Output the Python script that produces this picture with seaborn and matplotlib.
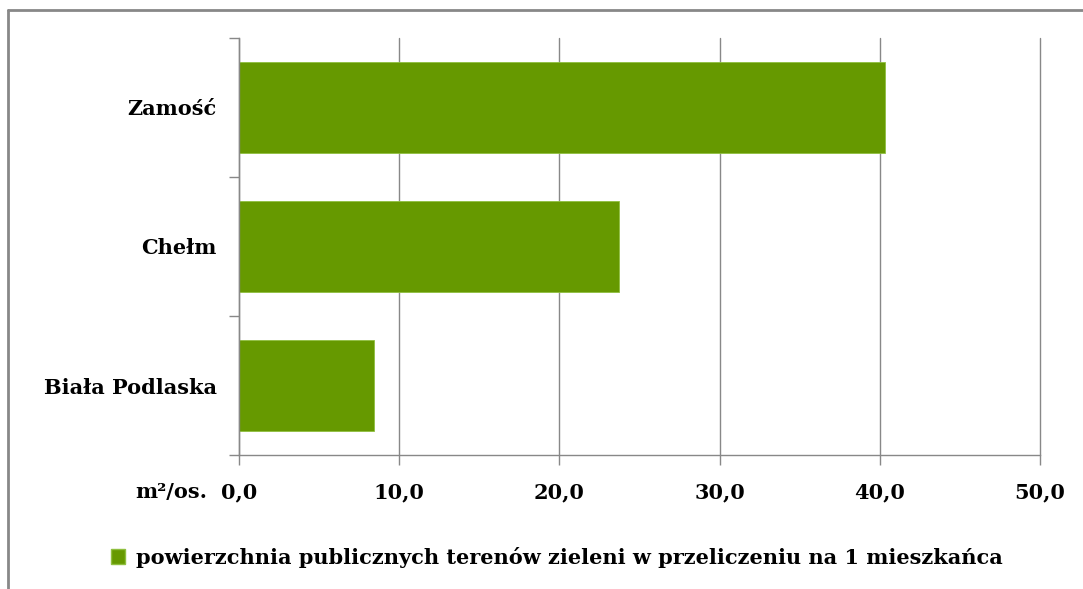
import pandas as pd
import numpy as np
import seaborn as sns
import matplotlib.pyplot as plt
from matplotlib.lines import Line2D
from matplotlib.patches import Patch

cities = ["Zamość", "Chełm", "Biała Podlaska"]
values = [40.3, 23.7, 8.4]
xticks = [0, 10, 20, 30, 40, 50]
series_name = "powierzchnia publicznych terenów zieleni w przeliczeniu na 1 mieszkańca"

df = pd.DataFrame({"miasto": cities, "wartosc": values})

sns.set_style("white")
plt.rcParams['font.family'] = ['DejaVu Serif']
plt.rcParams['font.weight'] = 'bold'
plt.rcParams['text.color'] = 'black'
plt.rcParams['xtick.color'] = 'black'
plt.rcParams['ytick.color'] = 'black'

green = "#669900"
grey = "#888888"
fs = 15

fig = plt.figure(figsize=(10.83, 5.89), dpi=100)
ax = fig.add_axes([0.2207, 0.2275, 0.7396, 0.708])

sns.barplot(ax=ax, data=df, x="wartosc", y="miasto", orient="h",
            color=green, width=0.66, saturation=1, edgecolor="#8fbf3f", linewidth=0.6)

ax.set_xlim(0, 50)
ax.set_ylim(2.5, -0.5)
ax.set_xticks(xticks)
ax.set_xticklabels([f"{t:.1f}".replace(".", ",") for t in xticks], fontsize=fs, fontweight='bold')
ax.tick_params(axis='x', bottom=True, direction='out', length=7, width=1, color=grey, pad=13)
ax.tick_params(axis='y', which='major', left=False, length=0, pad=16, labelsize=fs)
ax.set_yticks([-0.5, 0.5, 1.5, 2.5], minor=True)
ax.tick_params(axis='y', which='minor', left=True, direction='out', length=7, width=1, color=grey)
for lbl in ax.get_yticklabels():
    lbl.set_fontweight('bold')

ax.grid(axis='x', color=grey, linewidth=1)
for gl in ax.get_xgridlines():
    gl.set_clip_on(False)
ax.set_axisbelow(True)
for s in ['top', 'right']:
    ax.spines[s].set_visible(False)
for s in ['left', 'bottom']:
    ax.spines[s].set_color(grey)
    ax.spines[s].set_linewidth(1)
ax.set_xlabel("")
ax.set_ylabel("")

ax.text(-0.04, -0.088, "m²/os.", transform=ax.transAxes, ha='right', va='center',
        fontsize=fs, fontweight='bold')

handle = Patch(facecolor=green, edgecolor="#8fbf3f")
fig.legend([handle], [series_name], loc='center', bbox_to_anchor=(0.514, 0.054),
           frameon=False, handlelength=0.7, handleheight=0.7, handletextpad=0.5,
           prop={'weight': 'bold', 'size': fs})

# outer frame of the chart area
fig.add_artist(Line2D([8/1083, 1.0], [1 - 10/589, 1 - 10/589], transform=fig.transFigure,
                      color=grey, linewidth=2))
fig.add_artist(Line2D([8/1083, 8/1083], [0, 1 - 10/589], transform=fig.transFigure,
                      color=grey, linewidth=2))

fig.savefig("out.png", dpi=100, facecolor="white")
